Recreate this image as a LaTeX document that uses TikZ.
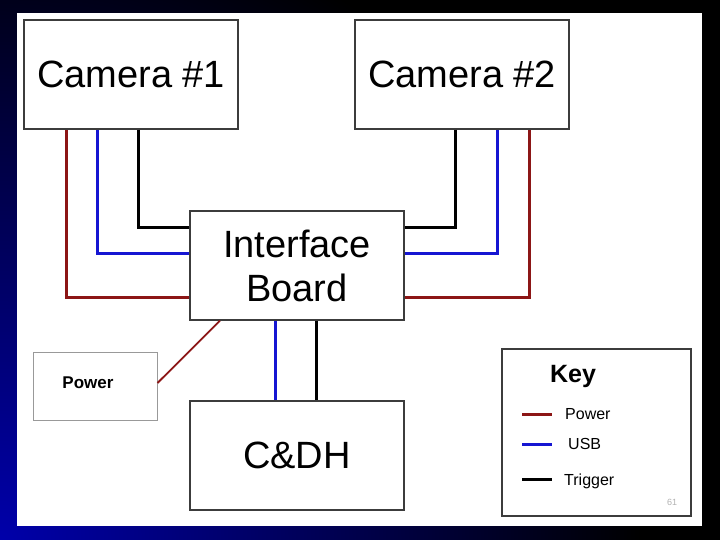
\documentclass[tikz,border=0pt]{standalone}
\usepackage{fontspec}
\setmainfont{Liberation Sans}
\definecolor{pwred}{RGB}{140,22,22}
\definecolor{usbblue}{RGB}{22,22,210}
\definecolor{boxgray}{RGB}{60,60,60}
\begin{document}
\begin{tikzpicture}[x=1pt,y=-1pt,
  blk/.style={draw=boxgray,line width=1.4pt,fill=white,minimum width=214pt,minimum height=109pt,inner sep=0pt,
              font=\fontsize{38}{44}\selectfont,align=center},
  pwrbox/.style={draw=gray!80,line width=1pt,fill=white,minimum width=124pt,minimum height=68pt,inner sep=0pt},
  keybox/.style={draw=boxgray,line width=1.4pt,fill=white,minimum width=189pt,minimum height=167pt,inner sep=0pt},
  pw/.style={draw=pwred,line width=3pt},
  usb/.style={draw=usbblue,line width=3pt},
  trg/.style={draw=black,line width=3pt},
  lbl/.style={font=\fontsize{16}{18}\selectfont,inner sep=0pt,anchor=west}]
\useasboundingbox (0,0) rectangle (720,540);
\fill[black] (0,0) rectangle (720,540);
\begin{scope}
  \clip (0,0) rectangle (720,540);
  \shade[inner color={rgb,255:red,0;green,0;blue,170},outer color=black] (0,540) circle (640);
\end{scope}
\fill[white] (17,13) rectangle (702,526);

% blocks
\node[blk] (cam1) at (131,74.5) {Camera \#1};
\node[blk] (cam2) at (462,74.5) {Camera \#2};
\node[blk] (ib) at (297,265.5) {Interface\\Board};
\node[blk] (cdh) at (297,455.5) {C\&DH};
\node[pwrbox] (pwr) at (95,386) {};
\node[font=\bfseries\fontsize{17}{20}\selectfont,inner sep=0pt] (pwrlbl) at (88,383) {Power};
\node[keybox] (key) at (596.5,432.5) {};

% camera 1 wires
\draw[pw]  ([xshift=-65pt]cam1.south) |- ([yshift=-31.5pt]ib.west);
\draw[usb] ([xshift=-34pt]cam1.south) |- ([yshift=12.5pt]ib.west);
\draw[trg] ([xshift=7pt]cam1.south)   |- ([yshift=37.5pt]ib.west);
% camera 2 wires
\draw[trg] ([xshift=-7pt]cam2.south)  |- ([yshift=37.5pt]ib.east);
\draw[usb] ([xshift=35pt]cam2.south)  |- ([yshift=12.5pt]ib.east);
\draw[pw]  ([xshift=67pt]cam2.south)  |- ([yshift=-31.5pt]ib.east);
% interface to C&DH
\draw[usb] ([xshift=-22pt]ib.south) -- ([xshift=-22pt]cdh.north);
\draw[trg] ([xshift=19pt]ib.south) -- ([xshift=19pt]cdh.north);
% power feed
\draw[pwred,line width=1.8pt] ([yshift=3pt]pwr.east) -- ([xshift=-77pt]ib.south);

% key
\node[font=\bfseries\fontsize{25}{28}\selectfont,inner sep=0pt] (keyt) at (573,376) {Key};
\coordinate (k1a) at (522,414); \coordinate (k1b) at (552,414);
\coordinate (k2a) at (522,444); \coordinate (k2b) at (552,444);
\coordinate (k3a) at (522,479); \coordinate (k3b) at (552,479);
\draw[pw]  (k1a) -- (k1b);
\draw[usb] (k2a) -- (k2b);
\draw[trg] (k3a) -- (k3b);
\node[lbl] (l1) at (565,414) {Power};
\node[lbl] (l2) at (568,444) {USB};
\node[lbl] (l3) at (564,481) {Trigger};
\node[font=\fontsize{9}{10}\selectfont,text=gray!60,inner sep=0pt] (pg) at (672,502) {61};
\end{tikzpicture}
\end{document}
